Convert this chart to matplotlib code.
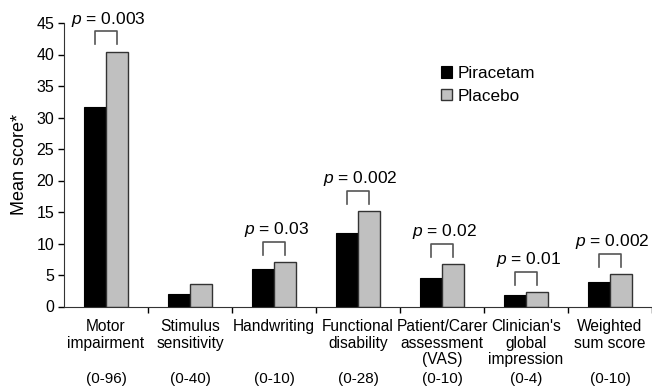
import numpy as np
import matplotlib
matplotlib.use('Agg')
import matplotlib.pyplot as plt

plt.rcParams['font.family'] = ['Liberation Sans', 'DejaVu Sans']
plt.rcParams['mathtext.fontset'] = 'custom'
plt.rcParams['mathtext.rm'] = 'Liberation Sans'
plt.rcParams['mathtext.it'] = 'Liberation Sans:italic'

categories = ['Motor\nimpairment', 'Stimulus\nsensitivity', 'Handwriting',
              'Functional\ndisability', 'Patient/Carer\nassessment\n(VAS)',
              "Clinician's\nglobal\nimpression", 'Weighted\nsum score']
ranges = ['(0-96)', '(0-40)', '(0-10)', '(0-28)', '(0-10)', '(0-4)', '(0-10)']
piracetam = [31.6, 2.0, 6.0, 11.6, 4.5, 1.9, 3.9]
placebo = [40.4, 3.5, 7.0, 15.1, 6.7, 2.25, 5.1]
pvalues = ['0.003', None, '0.03', '0.002', '0.02', '0.01', '0.002']

fig = plt.figure(figsize=(6.52, 3.87), dpi=100)
ax = fig.add_axes([64 / 652, 1 - 306.5 / 387, 1 - 64 / 652, (306.5 - 23) / 387])

x = np.arange(len(categories))
w = 0.26
ax.bar(x - w / 2, piracetam, w, color='black', edgecolor='black', lw=0.8, label='Piracetam')
ax.bar(x + w / 2, placebo, w, color='#c0c0c0', edgecolor='#333333', lw=1.0, label='Placebo')

# significance brackets
for i, p in enumerate(pvalues):
    if p is None:
        continue
    top = max(piracetam[i], placebo[i])
    y0 = top + 1.2
    y1 = y0 + 2.1
    ax.plot([i - w / 2, i - w / 2, i + w / 2, i + w / 2], [y0, y1, y1, y0],
            color='#555555', lw=1.2, clip_on=False)
    ax.text(i + 0.03, y1 + 0.4, r'$p$ = ' + p, ha='center', va='bottom',
            fontsize=12.5, clip_on=False)

ax.set_xlim(-0.5, 6.5)
ax.set_ylim(0, 45)
ax.set_yticks(np.arange(0, 46, 5))
ax.set_xticks(x + 0.5)
ax.set_xticklabels([])
ax.tick_params(axis='y', direction='out', length=4, width=1, labelsize=11.5, pad=3)
ax.tick_params(axis='x', direction='out', length=4, width=1)
for s in ['top', 'right']:
    ax.spines[s].set_visible(False)
for s in ['left', 'bottom']:
    ax.spines[s].set_color('#333333')

for i, (c, r) in enumerate(zip(categories, ranges)):
    ax.text(i, -2.0, c, ha='center', va='top', fontsize=11.2, linespacing=1.12,
            clip_on=False)
    ax.annotate(r, (i, 0), xycoords='data', xytext=(0, -72.5), textcoords='offset pixels',
                ha='center', va='center', fontsize=11, annotation_clip=False)

ax.set_ylabel('Mean score*', fontsize=13)
ax.yaxis.set_label_coords(-0.062, 0.5)

ax.legend(loc='upper left', bbox_to_anchor=(441 / 652, 1 - 66 / 387),
          bbox_transform=fig.transFigure, frameon=False, fontsize=12.3,
          handlelength=0.65, handleheight=0.65, handletextpad=0.3,
          borderpad=0, borderaxespad=0, labelspacing=0.45)

fig.savefig('out.png', dpi=100)
